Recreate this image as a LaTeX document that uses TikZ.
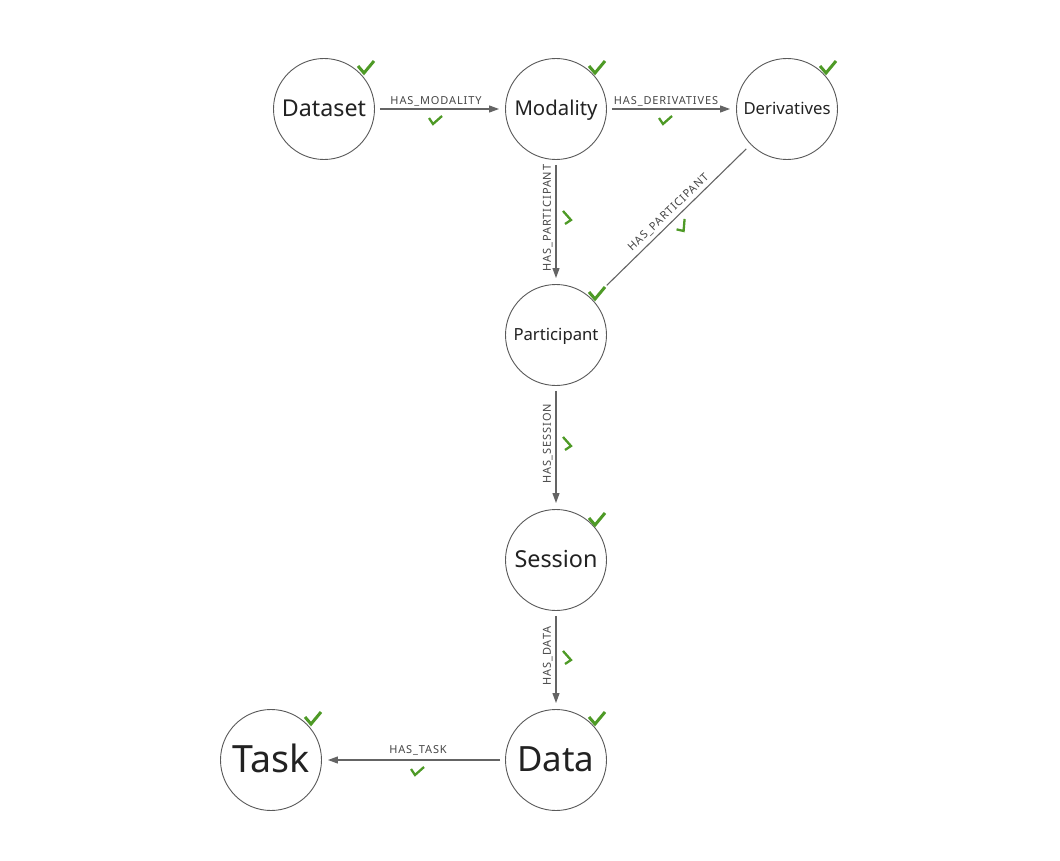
\documentclass[tikz,border=0pt]{standalone}
\usepackage{fontspec}
\setmainfont{Noto Sans}
\newfontfamily\lblfont[LetterSpace=8]{Noto Sans}
\usetikzlibrary{arrows.meta}
\definecolor{chkgreen}{RGB}{78,154,38}
\definecolor{edgegray}{RGB}{100,100,100}
\definecolor{ringgray}{RGB}{90,90,90}
\definecolor{txtdark}{RGB}{34,34,34}
\definecolor{lblgray}{RGB}{70,70,70}
\newcommand{\fitw}[2]{\resizebox{#1pt}{!}{\rule[-0.24em]{0pt}{1.12em}#2}}
\begin{document}
\begin{tikzpicture}[x=1pt,y=-1pt,
 ent/.style={circle,draw=ringgray,line width=0.9pt,minimum size=101pt,inner sep=0pt,text=txtdark},
 rel/.style={draw=edgegray,line width=1.1pt,-{Triangle[length=10pt,width=7pt]},shorten <=5pt,shorten >=6pt},
 plainrel/.style={draw=edgegray,line width=1.1pt,shorten <=6pt,shorten >=20pt},
 lbl/.style={font=\lblfont\fontsize{11}{13}\selectfont,text=lblgray,inner sep=0pt,text height=7.8pt,text depth=0pt},
 bigchk/.pic={\draw[chkgreen,line width=3pt] (-8,-1) -- (-2,6) -- (8,-6);},
 smallchk/.pic={\draw[chkgreen,line width=2.3pt] (-7,-2) -- (-3,4) -- (6,-4);}
]
\useasboundingbox[fill=white] (0,0) rectangle (1060,861);

\node[ent] (dataset) at (324,109) {\fitw{84}{Dataset}};
\node[ent] (modality) at (556,109) {\fitw{83}{Modality}};
\node[ent] (derivatives) at (787,109) {\fitw{87}{Derivatives}};
\node[ent] (participant) at (556,335) {\fitw{85}{Participant}};
\node[ent] (session) at (556,560) {\fitw{83}{Session}};
\node[ent] (data) at (556,760) {\fitw{77}{Data}};
\node[ent] (task) at (271,760) {\fitw{77}{Task}};

\draw[rel] (dataset) -- (modality);
\draw[rel] (modality) -- (derivatives);
\draw[rel] (modality) -- (participant);
\draw[plainrel] (derivatives) -- (participant);
\draw[rel] (participant) -- (session);
\draw[rel] (session) -- (data);
\draw[rel] (data) -- (task);

\node[lbl] (lmod) at (436,101) {HAS\_MODALITY};
\pic at (436,120) {smallchk};
\node[lbl] (lder) at (666,101) {HAS\_DERIVATIVES};
\pic at (666,120) {smallchk};
\node[lbl,rotate=90] (lpar) at (547,218) {HAS\_PARTICIPANT};
\pic[rotate=90] at (567,217) {smallchk};
\node[lbl,rotate=43.6] (lpar2) at (668,212) {HAS\_PARTICIPANT};
\pic[rotate=43.6] at (683,226) {smallchk};
\node[lbl,rotate=90] (lses) at (547,444) {HAS\_SESSION};
\pic[rotate=90] at (567,443) {smallchk};
\node[lbl,rotate=90] (ldat) at (547,656) {HAS\_DATA};
\pic[rotate=90] at (567,657) {smallchk};
\node[lbl] (ltask) at (418,750) {HAS\_TASK};
\pic at (418,771) {smallchk};

\pic at (366,67) {bigchk};
\pic at (597,67) {bigchk};
\pic at (828,67) {bigchk};
\pic at (597,293) {bigchk};
\pic at (597,519) {bigchk};
\pic at (597,718) {bigchk};
\pic at (313,718) {bigchk};
\end{tikzpicture}
\end{document}
